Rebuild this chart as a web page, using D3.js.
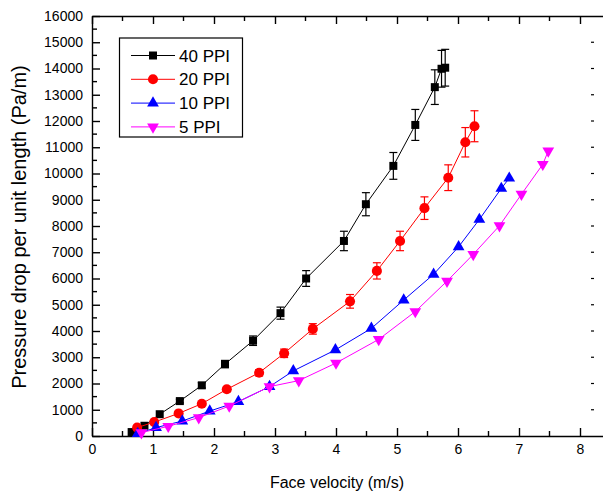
<!DOCTYPE html>
<html lang="en">
<head>
<meta charset="UTF-8">
<title>Pressure drop vs face velocity</title>
<script src="https://d3js.org/d3.v7.min.js"></script>
<style>
    body { margin: 0; background: #fff; }
    svg { display: block; font-family: Arial, "Liberation Sans", sans-serif; }
    .axis path, .axis line { stroke: #000; stroke-width: 1.4; }
    .axis text { font-size: 14px; fill: #000; }
</style>
</head>
<body>
<svg id="chart" width="603" height="492"></svg>
<script>
// data
const seriesNames = ["40 PPI", "20 PPI", "10 PPI", "5 PPI"];
const seriesColors = ["#000000", "#ff0000", "#0000ff", "#ff00ff"];
const seriesSymbols = ["square", "circle", "triangle", "triangleDown"];

const ppi40X = [0.65, 0.86, 1.11, 1.44, 1.80, 2.18, 2.64, 3.09, 3.51, 4.13, 4.49, 4.94, 5.30, 5.62, 5.73, 5.79];
const ppi40Y = [150, 390, 830, 1330, 1930, 2740, 3630, 4680, 6000, 7430, 8830, 10290, 11850, 13290, 13990, 14030];
const ppi40Err = [10, 20, 40, 70, 100, 140, 180, 230, 300, 370, 440, 510, 590, 660, 700, 700];

const ppi20X = [0.74, 1.02, 1.42, 1.80, 2.21, 2.74, 3.15, 3.62, 4.23, 4.67, 5.05, 5.45, 5.84, 6.12, 6.27];
const ppi20Y = [320, 530, 860, 1230, 1780, 2410, 3150, 4080, 5130, 6290, 7430, 8680, 9840, 11190, 11800];
const ppi20Err = [15, 25, 40, 60, 90, 120, 160, 200, 260, 310, 370, 430, 490, 560, 590];

const ppi10X = [0.75, 1.05, 1.48, 1.93, 2.40, 2.91, 3.30, 3.99, 4.58, 5.11, 5.60, 6.01, 6.35, 6.71, 6.84];
const ppi10Y = [90, 320, 570, 950, 1310, 1880, 2480, 3280, 4100, 5180, 6160, 7210, 8250, 9430, 9820];

const ppi5X = [0.81, 1.25, 1.75, 2.25, 2.91, 3.39, 4.00, 4.70, 5.30, 5.82, 6.25, 6.68, 7.04, 7.39, 7.48];
const ppi5Y = [130, 370, 700, 1140, 1880, 2110, 2780, 3680, 4740, 5900, 6920, 8010, 9210, 10350, 10860];

const xTicks = [0, 1, 2, 3, 4, 5, 6, 7, 8];
const yTicks = [0, 1000, 2000, 3000, 4000, 5000, 6000, 7000, 8000, 9000, 10000, 11000, 12000, 13000, 14000, 15000, 16000];

const svg = d3.select("#chart");
const mLeft = 92, mTop = 16, mBottom = 436;

const x = d3.scaleLinear().domain([0, 8.5]).range([mLeft, mLeft + 8.5 * 61]);
const y = d3.scaleLinear().domain([0, 16000]).range([mBottom, mTop]);

// minor ticks
const xMinor = d3.range(0.5, 8.5, 1);
const yMinor = d3.range(500, 16000, 1000);

// bottom axis
const xAxis = svg.append("g").attr("class", "axis")
    .attr("transform", `translate(0,${mBottom})`)
    .call(d3.axisBottom(x).tickValues(xTicks).tickFormat(d3.format("d"))
        .tickSizeInner(-8).tickSizeOuter(0).tickPadding(8));
xAxis.selectAll(".minor").data(xMinor).enter().append("line")
    .attr("x1", d => x(d)).attr("x2", d => x(d)).attr("y1", 0).attr("y2", -5)
    .attr("stroke", "#000").attr("stroke-width", 1.4);

// top axis (frame)
const xTop = svg.append("g").attr("class", "axis")
    .attr("transform", `translate(0,${mTop})`)
    .call(d3.axisTop(x).tickValues(xTicks).tickFormat("")
        .tickSizeInner(-8).tickSizeOuter(0));
xTop.selectAll(".minor").data(xMinor).enter().append("line")
    .attr("x1", d => x(d)).attr("x2", d => x(d)).attr("y1", 0).attr("y2", 5)
    .attr("stroke", "#000").attr("stroke-width", 1.4);

// left axis
const yAxis = svg.append("g").attr("class", "axis")
    .attr("transform", `translate(${mLeft},0)`)
    .call(d3.axisLeft(y).tickValues(yTicks).tickFormat(d3.format("d"))
        .tickSizeInner(-8).tickSizeOuter(0).tickPadding(9));
yAxis.selectAll(".minor").data(yMinor).enter().append("line")
    .attr("x1", 0).attr("x2", 5).attr("y1", d => y(d)).attr("y2", d => y(d))
    .attr("stroke", "#000").attr("stroke-width", 1.4);

// right side tick marks, cut by the picture edge
svg.append("g").selectAll("line").data(yTicks.slice(1, -1)).enter().append("line")
    .attr("x1", 591).attr("x2", 594).attr("y1", d => y(d)).attr("y2", d => y(d))
    .attr("stroke", "#000").attr("stroke-width", 1.2);

// axis titles
svg.append("text").attr("x", 337).attr("y", 488)
    .attr("text-anchor", "middle").attr("font-size", 16)
    .text("Face velocity (m/s)");
svg.append("text").attr("transform", "translate(26,227) rotate(-90)")
    .attr("text-anchor", "middle").attr("font-size", 20)
    .text("Pressure drop per unit length (Pa/m)");

const symbolType = {
    square: d3.symbolSquare,
    circle: d3.symbolCircle,
    triangle: d3.symbolTriangle,
    triangleDown: d3.symbolTriangle
};
const symbolSize = { square: 64, circle: 80, triangle: 60, triangleDown: 60 };

function markerPath(kind) {
    return d3.symbol().type(symbolType[kind]).size(symbolSize[kind])();
}

const series = [
    { xs: ppi40X, ys: ppi40Y, err: ppi40Err },
    { xs: ppi20X, ys: ppi20Y, err: ppi20Err },
    { xs: ppi10X, ys: ppi10Y, err: null },
    { xs: ppi5X, ys: ppi5Y, err: null }
];

const line = d3.line().x(d => x(d[0])).y(d => y(d[1]));

series.forEach((s, i) => {
    const pts = s.xs.map((v, j) => [v, s.ys[j], s.err ? s.err[j] : 0]);
    const g = svg.append("g");
    const col = seriesColors[i];

    g.append("path").datum(pts).attr("d", line)
        .attr("fill", "none").attr("stroke", col).attr("stroke-width", 1);

    if (s.err) {
        const eb = g.selectAll(".err").data(pts.filter(d => d[2] > 60)).enter().append("g");
        eb.append("line").attr("x1", d => x(d[0])).attr("x2", d => x(d[0]))
            .attr("y1", d => y(d[1] - d[2])).attr("y2", d => y(d[1] + d[2]));
        eb.append("line").attr("x1", d => x(d[0]) - 4).attr("x2", d => x(d[0]) + 4)
            .attr("y1", d => y(d[1] - d[2])).attr("y2", d => y(d[1] - d[2]));
        eb.append("line").attr("x1", d => x(d[0]) - 4).attr("x2", d => x(d[0]) + 4)
            .attr("y1", d => y(d[1] + d[2])).attr("y2", d => y(d[1] + d[2]));
        eb.selectAll("line").attr("stroke", col).attr("stroke-width", 1.2);
    }

    const kind = seriesSymbols[i];
    g.selectAll(".pt").data(pts).enter().append("path")
        .attr("d", markerPath(kind))
        .attr("transform", d => `translate(${x(d[0])},${y(d[1])})` + (kind === "triangleDown" ? " rotate(180)" : ""))
        .attr("fill", col);
});

// legend
const legend = svg.append("g");
legend.append("rect").attr("x", 119.5).attr("y", 38).attr("width", 123).attr("height", 99)
    .attr("fill", "#fff").attr("stroke", "#000").attr("stroke-width", 1.2);
seriesNames.forEach((name, i) => {
    const ly = 55.5 + i * 23.8;
    legend.append("line").attr("x1", 131).attr("x2", 175).attr("y1", ly).attr("y2", ly)
        .attr("stroke", seriesColors[i]).attr("stroke-width", 1);
    legend.append("path").attr("d", markerPath(seriesSymbols[i]))
        .attr("transform", `translate(153,${ly})` + (seriesSymbols[i] === "triangleDown" ? " rotate(180)" : ""))
        .attr("fill", seriesColors[i]);
    legend.append("text").attr("x", 179).attr("y", ly + 6)
        .attr("font-size", 17).text(name);
});
</script>
</body>
</html>
